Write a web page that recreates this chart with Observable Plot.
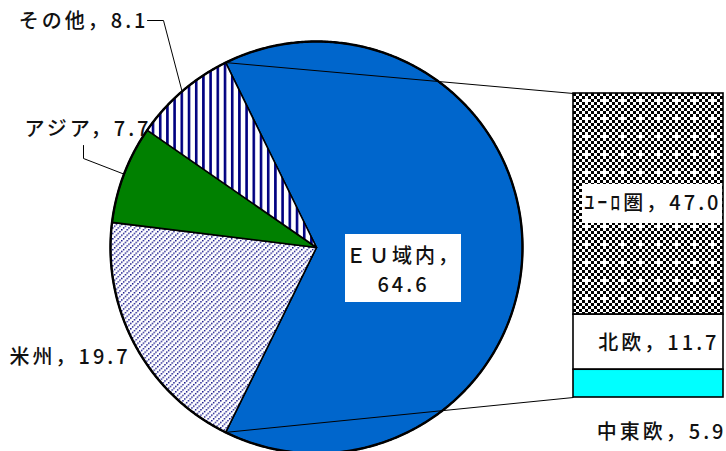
<!DOCTYPE html>
<html><head><meta charset="utf-8">
<script src="https://cdn.jsdelivr.net/npm/d3@7"></script>
<script src="https://cdn.jsdelivr.net/npm/@observablehq/plot@0.6"></script>
<style>html,body{margin:0;padding:0;background:#fff}svg{display:block}</style>
</head><body><div id="chart"></div>
<script>
// ---- data ----
const pieCategories = ["ＥＵ域内", "米州", "アジア", "その他"];
const pieValues = [64.6, 19.7, 7.7, 8.1];
const barCategories = ["ﾕｰﾛ圏", "北欧", "中東欧"];
const barValues = [47.0, 11.7, 5.9];

// ---- styles ----
const pieFills = ["#0066CC", "url(#pDots)", "#008000", "url(#pStripes)"];
const barFills = ["url(#pChecker)", "#FFFFFF", "#00FFFF"];
const FONT = "'Noto Sans CJK JP', 'Noto Sans', sans-serif";

// ---- layout ----
const W = 726, H = 451;
const cx = 316, cy = 247, R = 206;
const barX1 = 573, barX2 = 723, barTop = 93, barBottom = 397;

const total = d3.sum(pieValues);
const euAngle = pieValues[0] / total * 2 * Math.PI;
const start = Math.PI / 2 - euAngle / 2;
const arcs = d3.pie().sort(null).startAngle(start).endAngle(start + 2 * Math.PI)(pieValues);
const pt = (a, r = R) => ({x: cx + r * Math.sin(a), y: cy - r * Math.cos(a)});

function slicePoly(a0, a1, id) {
  const pts = [{id, x: cx, y: cy}];
  const n = Math.max(2, Math.ceil((a1 - a0) / (Math.PI / 360)));
  for (let i = 0; i <= n; i++) pts.push({id, ...pt(a0 + (a1 - a0) * i / n)});
  return pts;
}
const circle = slicePoly(0, 2 * Math.PI, "c").slice(1);

// bar stack
const barTotal = d3.sum(barValues);
const k = (barBottom - barTop) / barTotal;
let cum = 0;
const barRows = barValues.map((v, i) => {
  const r = {name: barCategories[i], value: v, y1: barTop + cum * k, y2: barTop + (cum + v) * k};
  cum += v; return r;
});

const euStart = pt(arcs[0].startAngle), euEnd = pt(arcs[0].endAngle);
const midA = i => (arcs[i].startAngle + arcs[i].endAngle) / 2;
const otherEdge = pt(midA(3)), asiaEdge = pt(midA(2));

const fmt = v => v.toFixed(1);
const textOpts = {fontFamily: FONT, fontSize: 20, fontWeight: 500, fill: "#111"};

const marks = [];
arcs.forEach((a, i) => {
  marks.push(Plot.line(slicePoly(a.startAngle, a.endAngle, i), {
    x: "x", y: "y", fill: pieFills[i], stroke: "black", strokeWidth: 1.6, curve: "linear-closed"
  }));
});
marks.push(Plot.line(circle, {x: "x", y: "y", stroke: "black", strokeWidth: 2.4, curve: "linear-closed"}));

// connector lines pie -> bar
marks.push(Plot.link([
  {x1: euStart.x, y1: euStart.y, x2: barX1, y2: barTop},
  {x1: euEnd.x, y1: euEnd.y, x2: barX1, y2: barBottom}
], {x1: "x1", y1: "y1", x2: "x2", y2: "y2", stroke: "black", strokeWidth: 1}));

// bar
barRows.forEach((r, i) => {
  marks.push(Plot.rect([r], {x1: barX1, x2: barX2, y1: "y1", y2: "y2", fill: barFills[i], stroke: "black", strokeWidth: 1.6}));
});

// leader lines
marks.push(Plot.line([{x: 147, y: 20}, {x: 163, y: 20}, otherEdge], {x: "x", y: "y", stroke: "black", strokeWidth: 1}));
marks.push(Plot.line([{x: 83, y: 145}, {x: 83, y: 158}, asiaEdge], {x: "x", y: "y", stroke: "black", strokeWidth: 1}));

// label boxes
marks.push(Plot.rect([0], {x1: 345, x2: 461, y1: 234, y2: 302, fill: "white"}));
marks.push(Plot.rect([0], {x1: 582, x2: 722, y1: 184, y2: 223, fill: "white"}));

// labels
marks.push(Plot.text([`${pieCategories[3]}，${fmt(pieValues[3])}`], {x: 148, y: 21, text: d => d, textAnchor: "end", ...textOpts}));
marks.push(Plot.text([`${pieCategories[2]}，${fmt(pieValues[2])}`], {x: 151, y: 129, text: d => d, textAnchor: "end", ...textOpts}));
marks.push(Plot.text([`${pieCategories[1]}，${fmt(pieValues[1])}`], {x: 9, y: 357, text: d => d, textAnchor: "start", ...textOpts}));
marks.push(Plot.text([`${pieCategories[0]}，\n${fmt(pieValues[0])}`], {x: 403, y: 268, text: d => d, textAnchor: "middle", lineHeight: 1.45, ...textOpts}));
marks.push(Plot.text([`${barCategories[0]}，${fmt(barValues[0])}`], {x: 721, y: 203, text: d => d, textAnchor: "end", ...textOpts}));
marks.push(Plot.text([`${barCategories[1]}，${fmt(barValues[1])}`], {x: 719, y: 343, text: d => d, textAnchor: "end", ...textOpts}));
marks.push(Plot.text([`${barCategories[2]}，${fmt(barValues[2])}`], {x: 726, y: 432, text: d => d, textAnchor: "end", ...textOpts}));

const chart = Plot.plot({
  width: W, height: H, margin: 0,
  x: {domain: [0, W], range: [0, W], axis: null},
  y: {domain: [0, H], range: [0, H], axis: null},
  style: "background:white; letter-spacing:3px; overflow:visible;",
  marks
});

// patterns
const NS = "http://www.w3.org/2000/svg";
const defs = document.createElementNS(NS, "defs");
let checker = "";
for (let i = 0; i < 6; i++) for (let j = 0; j < 6; j++) {
  if ((i + j) % 2 === 0 && !(i === 3 && j === 3)) checker += `<rect x="${i*3}" y="${j*3}" width="3" height="3" fill="black"/>`;
}
defs.innerHTML = `
<pattern id="pStripes" patternUnits="userSpaceOnUse" width="7.2" height="8">
  <rect width="7.2" height="8" fill="white"/><rect x="0" width="2.6" height="8" fill="#000080"/>
</pattern>
<pattern id="pDots" patternUnits="userSpaceOnUse" width="5.4" height="5.4">
  <rect width="5.4" height="5.4" fill="white"/>
  <rect x="0" y="3.6" width="1.4" height="1.4" fill="#000080"/>
  <rect x="1.8" y="1.8" width="1.4" height="1.4" fill="#000080"/>
  <rect x="3.6" y="0" width="1.4" height="1.4" fill="#000080"/>
</pattern>
<pattern id="pChecker" patternUnits="userSpaceOnUse" width="18" height="18">
  <rect width="18" height="18" fill="white"/>${checker}
</pattern>`;
chart.insertBefore(defs, chart.firstChild);
document.getElementById("chart").appendChild(chart);
</script>
</body></html>
